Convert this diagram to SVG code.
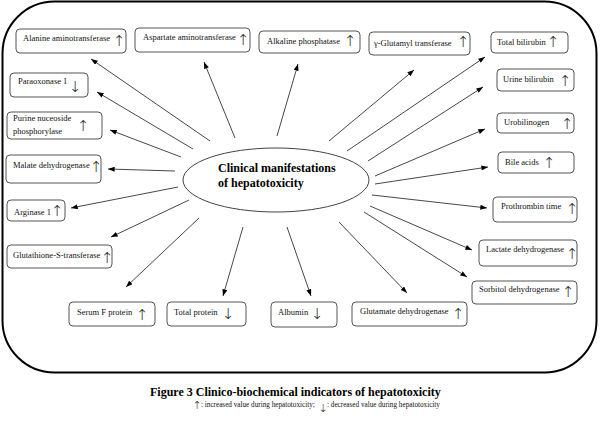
<svg xmlns="http://www.w3.org/2000/svg" width="600" height="427" viewBox="0 0 600 427">
<defs>
<style>
.frame{fill:none;stroke:#000;stroke-width:2}
.box{fill:#fff;stroke:#555;stroke-width:1}
.lbl{font-family:"Liberation Serif",serif;font-size:8.5px;fill:#111}
.arr{font-family:"DejaVu Sans",sans-serif;font-weight:200;font-size:15px;fill:#111;text-anchor:middle;font-variant-emoji:text}
.con{stroke:#333;stroke-width:0.9;fill:none;marker-end:url(#ah)}
.ctr{font-family:"Liberation Serif",serif;font-size:12px;font-weight:bold;fill:#000}
.cap{font-family:"Liberation Serif",serif;font-size:12px;font-weight:bold;fill:#000}
.leg{font-family:"Liberation Serif",serif;font-size:7.2px;fill:#111}
.legarr{font-family:"DejaVu Sans",sans-serif;font-weight:200;font-size:11px;fill:#111;text-anchor:middle;font-variant-emoji:text}
</style>
<marker id="ah" viewBox="0 0 8 6" refX="8" refY="3" markerWidth="7" markerHeight="5" markerUnits="userSpaceOnUse" orient="auto">
<path d="M0,0 L8,3 L0,6 Z" fill="#000"/>
</marker>
</defs>
<rect width="600" height="427" fill="#fff"/>
<rect class="frame" x="2.5" y="1.5" width="594" height="371" rx="52" ry="52"/>

<g id="connectors">
<line class="con" x1="210" y1="141" x2="91" y2="59"/>
<line class="con" x1="193" y1="149" x2="97" y2="92"/>
<line class="con" x1="181" y1="157" x2="110" y2="130"/>
<line class="con" x1="175" y1="171" x2="108" y2="169"/>
<line class="con" x1="178" y1="187" x2="71" y2="208"/>
<line class="con" x1="189" y1="200" x2="111" y2="237"/>
<line class="con" x1="199" y1="218" x2="126" y2="287"/>
<line class="con" x1="243" y1="227" x2="223" y2="296"/>
<line class="con" x1="287" y1="227" x2="311" y2="296"/>
<line class="con" x1="339" y1="222" x2="407" y2="293"/>
<line class="con" x1="364" y1="212" x2="467" y2="277"/>
<line class="con" x1="370" y1="206" x2="472" y2="250"/>
<line class="con" x1="372" y1="195" x2="487" y2="208"/>
<line class="con" x1="375" y1="184" x2="488" y2="167"/>
<line class="con" x1="375" y1="176" x2="485" y2="129"/>
<line class="con" x1="368" y1="161" x2="483" y2="87"/>
<line class="con" x1="347" y1="151" x2="485" y2="57"/>
<line class="con" x1="329" y1="141" x2="414" y2="70"/>
<line class="con" x1="277" y1="136" x2="298" y2="64"/>
<line class="con" x1="235" y1="138" x2="204" y2="62"/>
</g>

<g id="center">
<ellipse cx="276" cy="180" rx="93" ry="32" fill="#fff" stroke="#444" stroke-width="1"/>
<text class="ctr" x="218" y="172">Clinical manifestations</text>
<text class="ctr" x="218" y="187">of hepatotoxicity</text>
</g>

<g id="alt"><rect class="box" x="16" y="29" width="110" height="24" rx="4"/><text class="lbl" x="23" y="41">Alanine aminotransferase</text><text class="arr" x="119" y="46">↑</text></g>
<g id="ast"><rect class="box" x="135" y="28" width="115" height="24" rx="4"/><text class="lbl" x="143" y="40">Aspartate aminotransferase</text><text class="arr" x="243" y="45">↑</text></g>
<g id="alp"><rect class="box" x="259" y="31" width="101" height="22" rx="4"/><text class="lbl" x="267" y="44">Alkaline phosphatase</text><text class="arr" x="350" y="46">↑</text></g>
<g id="ggt"><rect class="box" x="369" y="32" width="101" height="23" rx="4"/><text class="lbl" x="374" y="46">γ-Glutamyl transferase</text><text class="arr" x="463" y="47">↑</text></g>
<g id="tbil"><rect class="box" x="491" y="32" width="77" height="21" rx="4"/><text class="lbl" x="497" y="45">Total bilirubin</text><text class="arr" x="553" y="47">↑</text></g>
<g id="ubil"><rect class="box" x="497" y="69" width="77" height="22" rx="4"/><text class="lbl" x="503" y="82">Urine bilirubin</text><text class="arr" x="565" y="86">↑</text></g>
<g id="urob"><rect class="box" x="497" y="113" width="77" height="20" rx="4"/><text class="lbl" x="504" y="125">Urobilinogen</text><text class="arr" x="567" y="129">↑</text></g>
<g id="bile"><rect class="box" x="498" y="152" width="76" height="21" rx="4"/><text class="lbl" x="505" y="165">Bile acids</text><text class="arr" x="549" y="168">↑</text></g>
<g id="pt"><rect class="box" x="493" y="197" width="84" height="25" rx="4"/><text class="lbl" x="501" y="209">Prothrombin time</text><text class="arr" x="572" y="214">↑</text></g>
<g id="ldh"><rect class="box" x="479" y="240" width="98" height="26" rx="4"/><text class="lbl" x="486" y="252">Lactate dehydrogenase</text><text class="arr" x="572" y="259">↑</text></g>
<g id="sdh"><rect class="box" x="472" y="281" width="105" height="23" rx="4"/><text class="lbl" x="479" y="292">Sorbitol dehydrogenase</text><text class="arr" x="568" y="297">↑</text></g>
<g id="gldh"><rect class="box" x="352" y="302" width="115" height="24" rx="4"/><text class="lbl" x="360" y="314">Glutamate dehydrogenase</text><text class="arr" x="458" y="319">↑</text></g>
<g id="alb"><rect class="box" x="271" y="302" width="66" height="25" rx="4"/><text class="lbl" x="278" y="315">Albumin</text><text class="arr" x="317" y="319">↓</text></g>
<g id="tp"><rect class="box" x="167" y="302" width="79" height="24" rx="4"/><text class="lbl" x="174" y="315">Total protein</text><text class="arr" x="228" y="319">↓</text></g>
<g id="sfp"><rect class="box" x="69" y="302" width="86" height="24" rx="4"/><text class="lbl" x="77" y="315">Serum F protein</text><text class="arr" x="142" y="320">↑</text></g>
<g id="gst"><rect class="box" x="7" y="245" width="105" height="23" rx="4"/><text class="lbl" x="13" y="258">Glutathione-S-transferase</text><text class="arr" x="107" y="263">↑</text></g>
<g id="arg"><rect class="box" x="7" y="200" width="58" height="21" rx="4"/><text class="lbl" x="14" y="215">Arginase 1</text><text class="arr" x="57" y="216">↑</text></g>
<g id="mdh"><rect class="box" x="6" y="155" width="95" height="28" rx="4"/><text class="lbl" x="13" y="168">Malate dehydrogenase</text><text class="arr" x="96" y="172">↑</text></g>
<g id="pnp"><rect class="box" x="7" y="112" width="95" height="27" rx="4"/><text class="lbl" x="13" y="121">Purine nuceoside</text><text class="lbl" x="13" y="134">phosphorylase</text><text class="arr" x="83" y="131">↑</text></g>
<g id="pon"><rect class="box" x="10" y="73" width="78" height="24" rx="4"/><text class="lbl" x="18" y="84">Paraoxonase 1</text><text class="arr" x="75" y="92">↓</text></g>

<g id="caption">
<text class="cap" x="150" y="396">Figure 3 Clinico-biochemical indicators of hepatotoxicity</text>
<text class="legarr" x="197" y="409">↑</text>
<text class="leg" x="201" y="407">: increased value during hepatotoxicity;</text>
<text class="legarr" x="323" y="412">↓</text>
<text class="leg" x="327" y="407">: decreased value during hepatotoxicity</text>
</g>
</svg>
